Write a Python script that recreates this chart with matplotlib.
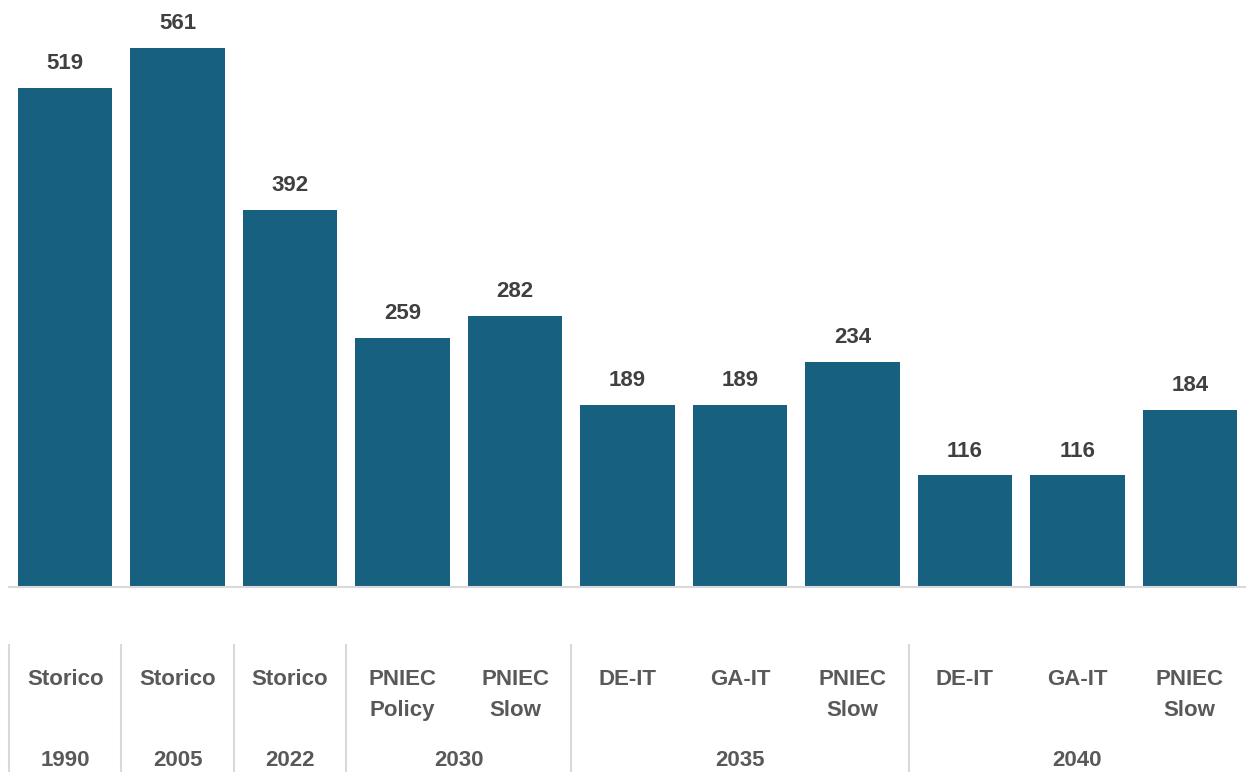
import matplotlib
matplotlib.use('Agg')
import matplotlib.pyplot as plt

# dati
scenari = ['Storico', 'Storico', 'Storico', 'PNIEC\nPolicy', 'PNIEC\nSlow',
           'DE-IT', 'GA-IT', 'PNIEC\nSlow', 'DE-IT', 'GA-IT', 'PNIEC\nSlow']
anni = ['1990', '2005', '2022', '2030', '2035', '2040']
gruppi = [1, 1, 1, 2, 3, 3]  # numero di barre per anno
valori = [519, 561, 392, 259, 282, 189, 189, 234, 116, 116, 184]

plt.rcParams['font.family'] = ['Liberation Sans', 'DejaVu Sans']

W, H = 1246, 772
fig = plt.figure(figsize=(W / 100, H / 100), dpi=100)

left = 9 / W
base = 1 - 587 / H
ax = fig.add_axes([left, base, 1 - left, 577 / H])
x = list(range(len(valori)))
ax.bar(x, valori, width=0.84, color='#17607F')
for xi, v in zip(x, valori):
    ax.annotate(str(v), (xi, v), xytext=(0, 10), textcoords='offset points',
                ha='center', va='bottom', fontsize=16, fontweight='bold',
                color='#404040')
ax.set_xlim(-0.5, len(valori) - 0.5)
ax.set_ylim(0, 600)
for s in ['top', 'right', 'left']:
    ax.spines[s].set_visible(False)
ax.spines['bottom'].set_color('#d9d9d9')
ax.spines['bottom'].set_linewidth(1.5)
ax.set_xticks([])
ax.set_yticks([])

# area etichette (coordinate in pixel verticali)
ax2 = fig.add_axes([left, 0, 1 - left, base])
ax2.set_xlim(-0.5, len(valori) - 0.5)
ax2.set_ylim(H, 587)
ax2.axis('off')

for xi, s in zip(x, scenari):
    ax2.text(xi, 669, s, ha='center', va='top', fontsize=16,
             fontweight='bold', color='#595959', linespacing=1.6)

start = 0
confini = [-0.5]
for anno, n in zip(anni, gruppi):
    centro = start + (n - 1) / 2
    ax2.text(centro, 761, anno, ha='center', va='center', fontsize=16,
             fontweight='bold', color='#595959')
    confini.append(start + n - 0.5)
    start += n

for c in confini:
    if c < len(valori) - 0.5:
        ax2.plot([c, c], [645, H], color='#d9d9d9', lw=1.5, clip_on=False)

fig.savefig('out.png', dpi=100)
